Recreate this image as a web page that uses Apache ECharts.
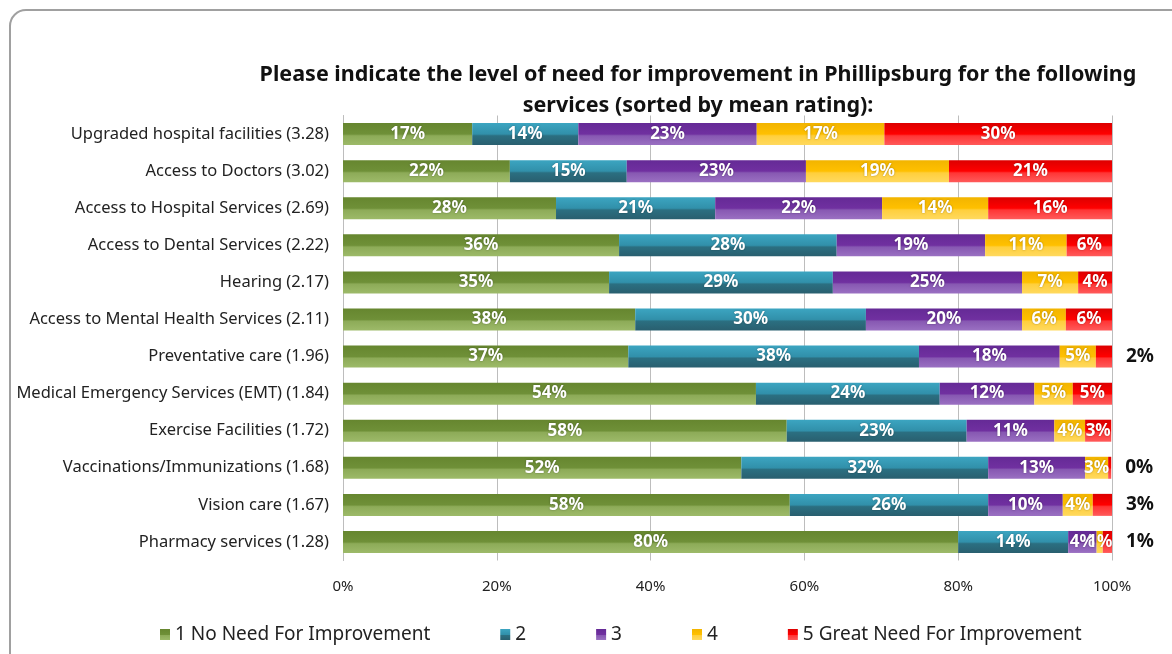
<!DOCTYPE html>
<html>
<head>
<meta charset="utf-8">
<script src="https://cdn.jsdelivr.net/npm/echarts@6/dist/echarts.min.js"></script>
<style>html,body{margin:0;padding:0;background:#fff;}#c{width:1172px;height:654px;}</style>
</head>
<body>
<div id="c"></div>
<script>
const categories = [
  'Upgraded hospital facilities (3.28)',
  'Access to Doctors (3.02)',
  'Access to Hospital Services (2.69)',
  'Access to Dental Services (2.22)',
  'Hearing (2.17)',
  'Access to Mental Health Services (2.11)',
  'Preventative care (1.96)',
  'Medical Emergency Services (EMT) (1.84)',
  'Exercise Facilities (1.72)',
  'Vaccinations/Immunizations (1.68)',
  'Vision care (1.67)',
  'Pharmacy services (1.28)'
];
const seriesNames = ['1 No Need For Improvement', '2', '3', '4', '5 Great Need For Improvement'];
const rating1 = [16.8, 21.7, 27.7, 35.9, 34.6, 38.0, 37.1, 53.7, 57.7, 51.8, 58.1, 80.0];
const rating2 = [13.8, 15.2, 20.7, 28.3, 29.1, 30.0, 37.8, 23.9, 23.4, 32.1, 25.8, 14.3];
const rating3 = [23.2, 23.3, 21.7, 19.3, 24.6, 20.3, 18.3, 12.3, 11.4, 12.6, 9.7, 3.7];
const rating4 = [16.6, 18.6, 13.8, 10.6, 7.3, 5.7, 4.7, 5.0, 4.0, 3.0, 3.9, 0.8];
const rating5 = [29.6, 21.2, 16.1, 5.9, 4.4, 6.0, 2.1, 5.1, 3.4, 0.4, 2.6, 1.2];
const xTicks = [0, 20, 40, 60, 80, 100];
// rows whose last segment label sits outside the bar
const outsideRows = [6, 9, 10, 11];

const palette = [
  ['#66862f', '#6f9038', '#8dab58', '#9dba69'],
  ['#3ca5c1', '#3190aa', '#2b6f81', '#295f6f'],
  ['#652a96', '#7030a0', '#8758b2', '#9a70c2'],
  ['#f2b400', '#ffc000', '#ffcf3c', '#ffd95e'],
  ['#dc0000', '#ff0000', '#ff3535', '#ff5a5a']
];
function grad(c) {
  return new echarts.graphic.LinearGradient(0, 0, 0, 1, [
    {offset: 0, color: c[0]}, {offset: 0.5, color: c[1]},
    {offset: 0.58, color: c[2]}, {offset: 1, color: c[3]}
  ]);
}
const allData = [rating1, rating2, rating3, rating4, rating5];
const FONT = 'Noto Sans';

const series = allData.map((arr, si) => ({
  name: seriesNames[si],
  type: 'bar',
  stack: 'total',
  barWidth: 22,
  itemStyle: {color: grad(palette[si])},
  label: {
    show: true,
    position: 'inside',
    color: '#fff',
    fontFamily: FONT,
    fontWeight: 'bold',
    fontSize: 17,
    textShadowColor: 'rgba(0,0,0,0.35)',
    textShadowBlur: 2,
    formatter: p => Math.round(p.value) + '%'
  },
  data: arr.map((v, i) => {
    if (si === 4 && outsideRows.includes(i)) {
      return {value: v, label: {position: 'right', distance: 14, color: '#111', fontSize: 19, textShadowBlur: 0}};
    }
    return v;
  })
}));

const chart = echarts.init(document.getElementById('c'));
chart.setOption({
  animation: false,
  textStyle: {fontFamily: FONT},
  title: {
    text: 'Please indicate the level of need for improvement in Phillipsburg for the following\nservices (sorted by mean rating):',
    left: 693,
    top: 54,
    textAlign: 'center',
    textStyle: {fontFamily: FONT, fontSize: 21.5, fontWeight: 'bold', color: '#111', lineHeight: 31}
  },
  legend: {
    bottom: 5,
    left: 155,
    icon: 'rect',
    itemWidth: 10,
    itemHeight: 11,
    itemGap: 70,
    textStyle: {fontFamily: FONT, fontSize: 19, color: '#222'},
    data: seriesNames
  },
  grid: {left: 343, right: 60, top: 115.5, bottom: 93.5, containLabel: false},
  xAxis: {
    type: 'value',
    min: xTicks[0],
    max: xTicks[xTicks.length - 1],
    interval: 20,
    axisLabel: {formatter: v => v + '%', fontFamily: FONT, fontSize: 15, color: '#222', margin: 19},
    axisLine: {show: false},
    axisTick: {show: false},
    splitLine: {show: true, lineStyle: {color: '#bdbdbd', width: 1}}
  },
  yAxis: {
    type: 'category',
    inverse: true,
    data: categories,
    axisLabel: {fontFamily: FONT, fontSize: 16.5, color: '#222', margin: 14},
    axisLine: {show: true, lineStyle: {color: '#bdbdbd'}},
    axisTick: {show: false}
  },
  graphic: [{
    type: 'rect',
    shape: {x: 10, y: 10, width: 1200, height: 700, r: 16},
    style: {fill: 'none', stroke: '#a0a0a0', lineWidth: 2},
    silent: true,
    z: -1
  }],
  series: series
});
</script>
</body>
</html>
